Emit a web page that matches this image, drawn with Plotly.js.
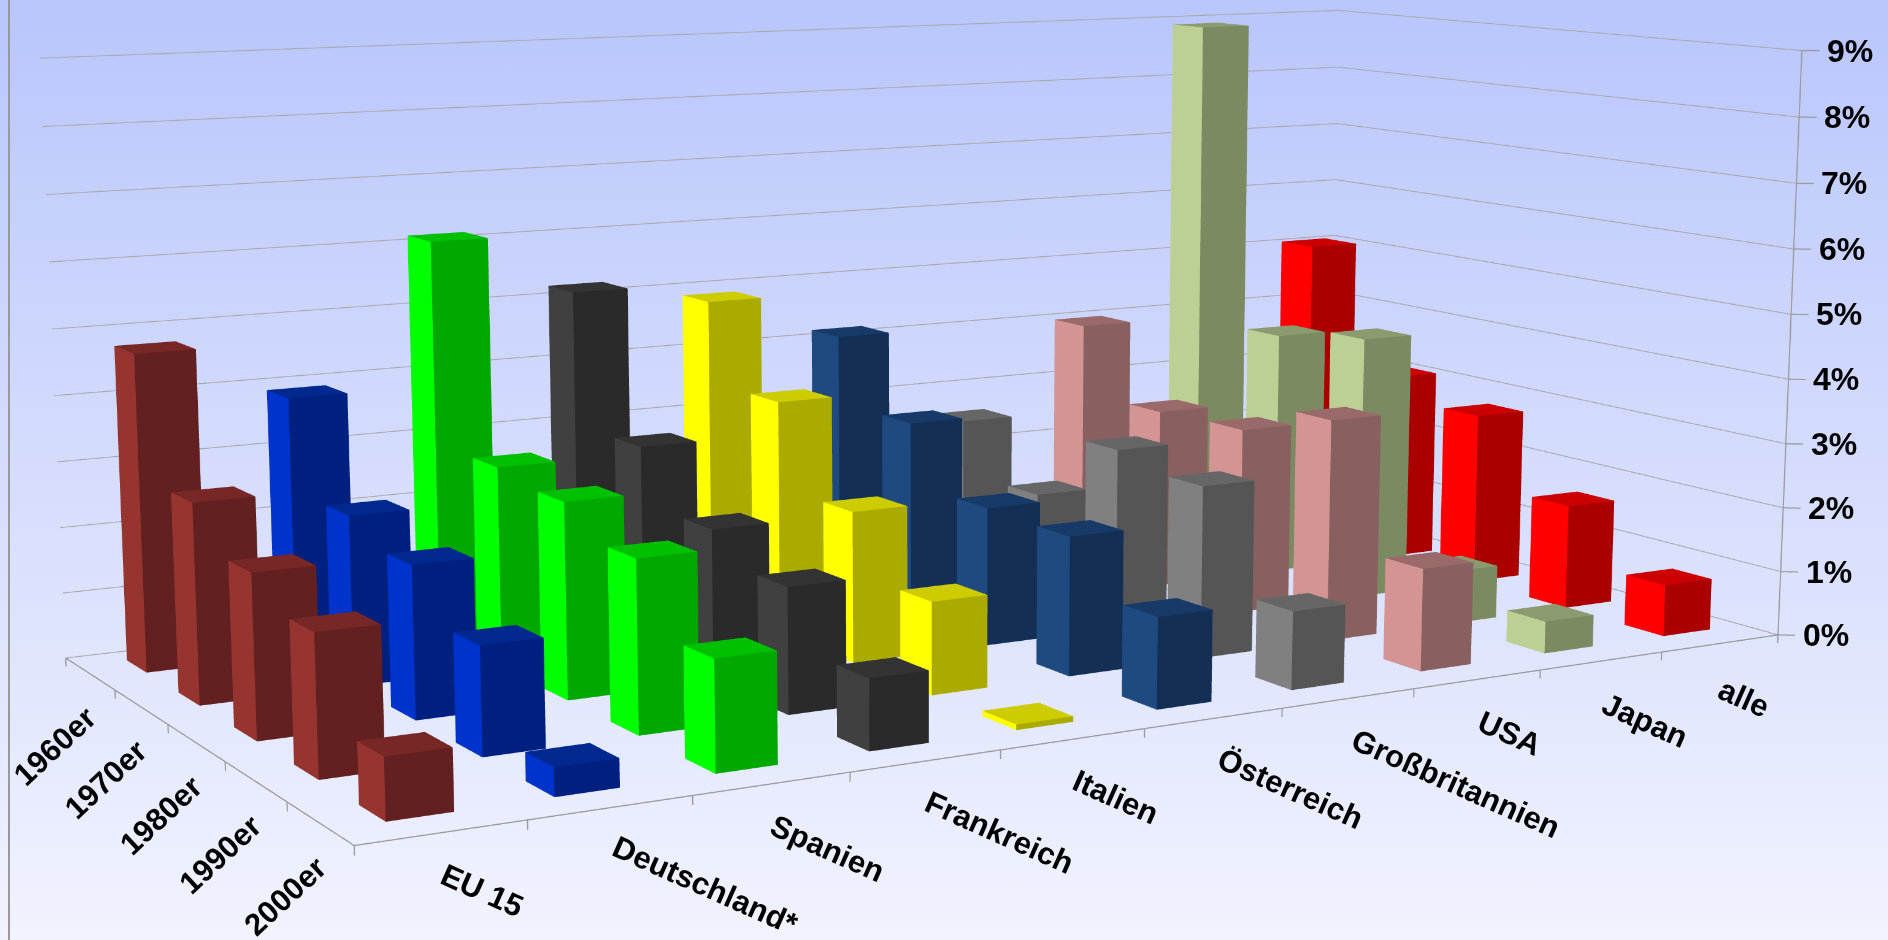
<!DOCTYPE html>
<html><head><meta charset="utf-8"><script src="https://cdn.plot.ly/plotly-3.0.1.min.js"></script>
<style>html,body{margin:0;padding:0;overflow:hidden}body{background:linear-gradient(#b9c6fc,#f1f3fe);width:1888px;height:940px;position:relative}#c{position:absolute;left:-1056px;top:-1090px;width:4000px;height:3120px}#l{position:absolute;left:8px;top:0;width:2px;height:940px;background:#999;z-index:5}</style></head><body><div id="c"></div><div id="l"></div>
<script>
const countries=["EU 15","Deutschland*","Spanien","Frankreich","Italien","Österreich","Großbritannien","USA","Japan","alle"];
const decades=["1960er","1970er","1980er","1990er","2000er"];
const percent=["0%","1%","2%","3%","4%","5%","6%","7%","8%","9%"];
const eu15=[4.77,2.95,2.37,2.0,.85], deutschland=[3.92,2.53,2.23,1.55,.4], spanien=[6.13,3.03,2.9,2.5,1.57], frankreich=[5.2,3.13,2.27,1.85,1.02], italien=[4.89,3.62,2.3,1.38,.08], oesterreich=[4.16,3.09,2.13,2.1,1.35], gb=[2.58,1.73,2.82,2.63,1.17], usa=[4.0,2.88,2.93,3.43,1.55], japan=[8.91,3.96,4.2,.83,.49], alle=[5.05,3.08,2.76,1.65,.8];
const series=[eu15,deutschland,spanien,frankreich,italien,oesterreich,gb,usa,japan,alle];
const leftCol=['#963530','#0033cc','#00ff00','#404040','#ffff00','#1f4a80','#808080','#d49494','#bcd095','#ff0000'];
const rightCol=['#622020','#002080','#00a800','#2a2a2a','#aaaa00','#132f55','#555555','#886060','#7c8a62','#aa0000'];
const topCol=['#772826','#00288f','#00c000','#333333','#cccc00','#183a68','#666666','#9a6a6a','#8c9a70','#cc0000'];
const catShift=[[40,58],[94,78],[55,65],[73,72],[43,58],[76,70],[107,85],[32,54],[43,60],[24,55]];
const ex=-2.3976,ey=-4.1550,ez=.7239,cx=.0161,cz=-.1526,ay=1.0069,az=.7703;
const bx0=.32,bx1=.72,by0=.35,by1=.74;
const traces=[];
series.forEach((vals,ci)=>{
 const X=[],Y=[],Z=[],I=[],J=[],K=[],FC=[];
 vals.forEach((v,di)=>{
  const row=4-di,b=X.length;
  [[0,0,0],[1,0,0],[1,1,0],[0,1,0],[0,0,1],[1,0,1],[1,1,1],[0,1,1]].forEach(c=>{X.push(ci+(c[0]?bx1:bx0));Y.push(row+(c[1]?by1:by0));Z.push(c[2]*v);});
  const quad=(a,bb,c,d,col)=>{I.push(b+a,b+a);J.push(b+bb,b+c);K.push(b+c,b+d);FC.push(col,col);};
  quad(0,3,7,4,leftCol[ci]);quad(0,1,5,4,rightCol[ci]);quad(4,5,6,7,topCol[ci]);
 });
 traces.push({type:'mesh3d',x:X,y:Y,z:Z,i:I,j:J,k:K,facecolor:FC,flatshading:true,lighting:{ambient:1,diffuse:0,specular:0,roughness:1,fresnel:0},hoverinfo:'skip',showscale:false});
});
const gx=[],gy=[],gz=[];const seg=(...pts)=>{pts.forEach(p=>{gx.push(p[0]);gy.push(p[1]);gz.push(p[2]);});gx.push(null);gy.push(null);gz.push(null);};
percent.forEach((t,k)=>seg([0,5,k],[10,5,k],[10,0,k]));
traces.push({type:'scatter3d',mode:'lines',x:gx,y:gy,z:gz,line:{color:'#a8a8a8',width:1.5},hoverinfo:'skip'});
const fx=[],fy=[],fz=[];const seg2=(...pts)=>{pts.forEach(p=>{fx.push(p[0]);fy.push(p[1]);fz.push(p[2]);});fx.push(null);fy.push(null);fz.push(null);};
seg2([0,5,0],[0,0,0],[10,0,0]);seg2([10,0,0],[10,0,9]);
for(let i=0;i<=10;i++)seg2([i,0,0],[i,0,-.13]);
for(let i=1;i<=5;i++)seg2([0,i,0],[0,i,-.13]);
percent.forEach((t,k)=>seg2([10,0,k],[10.09,-.065,k]));
traces.push({type:'scatter3d',mode:'lines',x:fx,y:fy,z:fz,line:{color:'#9a9a9a',width:2},hoverinfo:'skip'});
const fnt={family:'Liberation Sans',size:31,color:'#000'};
const ann=[];
countries.forEach((c,i)=>ann.push({x:i+.5,y:0,z:0,text:'<b>'+c+'</b>',showarrow:false,font:fnt,textangle:24,xshift:catShift[i][0],yshift:-catShift[i][1],xanchor:'center',yanchor:'middle'}));
decades.forEach((c,i)=>ann.push({x:0,y:4.5-i,z:0,text:'<b>'+c+'</b>',showarrow:false,font:fnt,textangle:-43,xshift:-35,yshift:-73,xanchor:'center',yanchor:'middle'}));
percent.forEach((c,k)=>ann.push({x:10,y:0,z:k,text:'<b>'+c+'</b>',showarrow:false,font:{...fnt,size:32},xshift:48,yshift:0,xanchor:'center',yanchor:'middle'}));
const off={visible:false,showbackground:false,showspikes:false};
const layout={width:4000,height:3120,autosize:false,paper_bgcolor:'rgba(0,0,0,0)',margin:{l:0,r:0,t:0,b:0,pad:0},showlegend:false,
 scene:{domain:{x:[0,1],y:[0,1]},aspectmode:'manual',aspectratio:{x:2*10.4/10,y:ay*5.4/5,z:az*9.6/9},camera:{eye:{x:ex,y:ey,z:ez},center:{x:cx,y:0,z:cz},up:{x:0,y:0,z:1},projection:{type:'perspective'}},
 xaxis:{...off,range:[-.2,10.2]},yaxis:{...off,range:[-.2,5.2]},zaxis:{...off,range:[-.3,9.3]},annotations:ann}};
Plotly.newPlot('c',traces,layout,{displayModeBar:false});
</script></body></html>
